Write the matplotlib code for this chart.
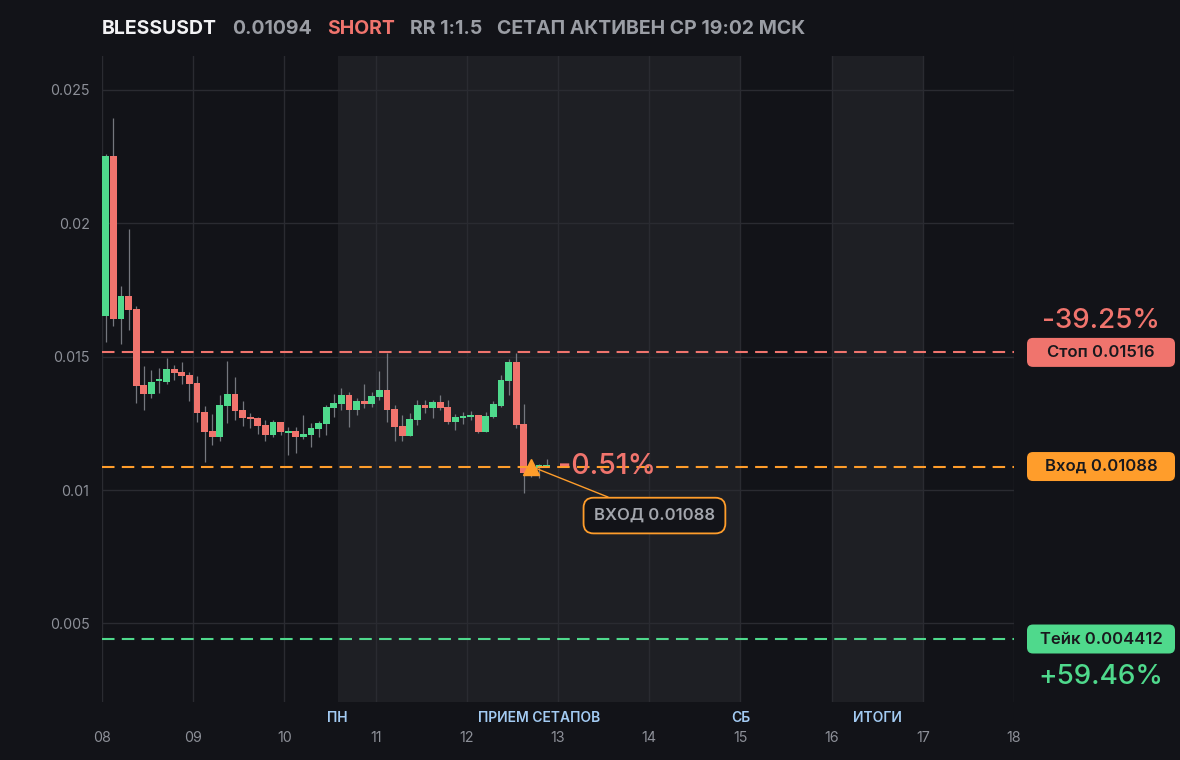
import matplotlib
matplotlib.use("Agg")
import matplotlib.pyplot as plt
import matplotlib.transforms as mtransforms
from matplotlib.patches import FancyBboxPatch
import numpy as np

plt.rcParams['font.family'] = ['Inter', 'DejaVu Sans']

# ---- data ----
symbol = "BLESSUSDT"
last_price = "0.01094"
side = "SHORT"
rr_text = "RR 1:1.5"
status_text = "СЕТАП АКТИВЕН СР 19:02 МСК"

# 2h candles starting on day 08
opens = [0.01654, 0.02253, 0.01641, 0.01728, 0.01680, 0.01394, 0.01361, 0.01409, 0.01405, 0.01454,
         0.01443, 0.01431, 0.01401, 0.01293, 0.01221, 0.01199, 0.01315, 0.01360, 0.01300, 0.01274,
         0.01270, 0.01244, 0.01206, 0.01255, 0.01214, 0.01221, 0.01199, 0.01206, 0.01229, 0.01248,
         0.01308, 0.01323, 0.01356, 0.01300, 0.01334, 0.01323, 0.01349, 0.01375, 0.01304, 0.01240,
         0.01203, 0.01263, 0.01319, 0.01308, 0.01330, 0.01311, 0.01255, 0.01270, 0.01274, 0.01281,
         0.01218, 0.01274, 0.01315, 0.01409, 0.01480, 0.01248, 0.01064, 0.01084, 0.01088]
highs = [0.02260, 0.02395, 0.01765, 0.01979, 0.01690, 0.01465, 0.01450, 0.01458, 0.01495, 0.01469,
         0.01480, 0.01443, 0.01428, 0.01315, 0.01285, 0.01356, 0.01484, 0.01424, 0.01334, 0.01289,
         0.01274, 0.01263, 0.01263, 0.01255, 0.01236, 0.01236, 0.01281, 0.01251, 0.01259, 0.01319,
         0.01360, 0.01383, 0.01367, 0.01345, 0.01398, 0.01367, 0.01446, 0.01514, 0.01319, 0.01281,
         0.01289, 0.01338, 0.01338, 0.01338, 0.01356, 0.01338, 0.01285, 0.01293, 0.01296, 0.01281,
         0.01293, 0.01334, 0.01431, 0.01491, 0.01514, 0.01323, 0.01090, 0.01096, 0.01116]
lows = [0.01555, 0.01616, 0.01547, 0.01601, 0.01328, 0.01301, 0.01346, 0.01365, 0.01398, 0.01413,
        0.01398, 0.01334, 0.01255, 0.01105, 0.01169, 0.01184, 0.01251, 0.01263, 0.01240, 0.01233,
        0.01210, 0.01184, 0.01200, 0.01206, 0.01131, 0.01139, 0.01191, 0.01161, 0.01199, 0.01206,
        0.01274, 0.01300, 0.01236, 0.01280, 0.01308, 0.01311, 0.01338, 0.01255, 0.01184, 0.01184,
        0.01203, 0.01244, 0.01289, 0.01270, 0.01300, 0.01248, 0.01225, 0.01248, 0.01263, 0.01214,
        0.01218, 0.01270, 0.01311, 0.01356, 0.01233, 0.00989, 0.01047, 0.01045, 0.01086]
closes = [0.02253, 0.01641, 0.01728, 0.01676, 0.01391, 0.01361, 0.01405, 0.01416, 0.01454, 0.01439,
          0.01428, 0.01398, 0.01289, 0.01218, 0.01199, 0.01319, 0.01360, 0.01296, 0.01270, 0.01266,
          0.01240, 0.01206, 0.01255, 0.01218, 0.01221, 0.01199, 0.01210, 0.01233, 0.01251, 0.01311,
          0.01326, 0.01356, 0.01300, 0.01334, 0.01323, 0.01352, 0.01375, 0.01300, 0.01236, 0.01203,
          0.01266, 0.01319, 0.01308, 0.01330, 0.01308, 0.01255, 0.01274, 0.01278, 0.01281, 0.01218,
          0.01278, 0.01323, 0.01413, 0.01480, 0.01244, 0.01064, 0.01085, 0.01094, 0.01094]
start_day = 8
candle_hours = 2

stop_price = 0.01516
entry_price = 0.01088
take_price = 0.004412
stop_label = "Стоп 0.01516"
entry_label = "Вход 0.01088"
take_label = "Тейк 0.004412"
stop_pct = "-39.25%"
take_pct = "+59.46%"
current_pct = "-0.51%"
entry_note = "ВХОД 0.01088"
entry_index = 56

day_ticks = [8, 9, 10, 11, 12, 13, 14, 15, 16, 17, 18]
day_labels = ["08", "09", "10", "11", "12", "13", "14", "15", "16", "17", "18"]
y_ticks = [0.005, 0.01, 0.015, 0.02, 0.025]
y_labels = ["0.005", "0.01", "0.015", "0.02", "0.025"]

week_band = (10 + 14 / 24, 15.0)
results_band = (16.0, 17.0)

# ---- style ----
BG = "#121318"
BAND = "#1e1f24"
GRID = "#2a2b31"
GREEN = "#4fd98c"
RED = "#f0746d"
ORANGE = "#ff9d2b"
WICK = "#74777e"
TICK = "#8d9098"
BLUE = "#a3cbf3"
W, H = 1180, 760

fig = plt.figure(figsize=(W / 100, H / 100), dpi=100, facecolor=BG)
ax = fig.add_axes([102 / W, 58 / H, 912 / W, 646 / H])
ax.set_facecolor(BG)
ax.set_xlim(8, 18)
ax.set_ylim(0.00205, 0.026275)
for s in ax.spines.values():
    s.set_visible(False)

ax.axvspan(*week_band, color=BAND, lw=0, zorder=0)
ax.axvspan(*results_band, color=BAND, lw=0, zorder=0)

ax.set_xticks(day_ticks)
ax.set_xticklabels(day_labels)
ax.set_yticks(y_ticks)
ax.set_yticklabels(y_labels)
ax.tick_params(length=0, colors=TICK, labelsize=10.3)
ax.tick_params(axis='x', pad=21)
ax.tick_params(axis='y', pad=9)
ax.grid(True, color=GRID, lw=1, zorder=1)
ax.set_axisbelow(True)

# candles
o = np.array(opens)
h = np.array(highs)
l = np.array(lows)
c = np.array(closes)
t = start_day + (candle_hours * np.arange(len(o)) + candle_hours / 2) / 24
cols = np.where(c >= o, GREEN, RED)
ax.vlines(t, l, h, color=WICK, lw=0.9, zorder=2)
ax.bar(t, np.abs(c - o), bottom=np.minimum(o, c), width=0.076, color=cols, lw=0, zorder=3)

# levels
ax.axhline(stop_price, color=RED, lw=1.5, dashes=(6, 3.5), zorder=4)
ax.axhline(entry_price, color=ORANGE, lw=1.5, dashes=(6, 3.5), zorder=4)
ax.axhline(take_price, color=GREEN, lw=1.5, dashes=(6, 3.5), zorder=4)

# entry marker + note
ax.plot(t[entry_index], entry_price, marker='^', color=ORANGE, ms=11, mec=ORANGE, zorder=6)
ax.annotate(entry_note, xy=(t[entry_index], entry_price), xytext=(88.6, -35.3),
            textcoords='offset points', ha='center', va='center', color="#a3a6ad",
            fontsize=12, fontweight='semibold',
            bbox=dict(boxstyle='round,pad=0.62,rounding_size=0.6', fc=BG, ec=ORANGE, lw=1.3),
            arrowprops=dict(arrowstyle='-', color=ORANGE, lw=1, shrinkA=0, shrinkB=0), zorder=6)
ax.annotate(current_pct, xy=(t[-1], entry_price), xytext=(8, 0), textcoords='offset points',
            ha='left', va='center', color=RED, fontsize=20.5, fontweight='medium', zorder=7)

# right-hand level tags
px = mtransforms.Affine2D().scale(1 / W, 1 / H) + fig.transFigure


def level_tag(price, text, color, pct=None, pct_dy=0):
    yc = ax.transData.transform((8, price))[1]
    box = FancyBboxPatch((1027, yc - 14.5), 148, 29, boxstyle='round,pad=0,rounding_size=6',
                         transform=px, fc=color, ec='none', clip_on=False)
    fig.add_artist(box)
    fig.text(1101, yc, text, transform=px, ha='center', va='center', color="#19191d",
             fontsize=12, fontweight='semibold')
    if pct:
        fig.text(1101, yc + pct_dy, pct, transform=px, ha='center', va='center', color=color,
                 fontsize=20, fontweight='medium')


level_tag(stop_price, stop_label, RED, stop_pct, 31)
level_tag(entry_price, entry_label, ORANGE)
level_tag(take_price, take_label, GREEN, take_pct, -38)

# phase labels under the axis
blend = mtransforms.blended_transform_factory(ax.transData, ax.transAxes)
phases = [("ПН", week_band[0]), ("ПРИЕМ СЕТАПОВ", sum(week_band) / 2),
          ("СБ", week_band[1]), ("ИТОГИ", sum(results_band) / 2)]
for name, xpos in phases:
    ax.text(xpos, -16 / 646, name, transform=blend, ha='center', va='center',
            color=BLUE, fontsize=10, fontweight='semibold')

# title row
renderer = fig.canvas.get_renderer()
x = 102
for txt, col in [(symbol, "#f2f2f4"), (last_price, "#9a9da4"), (side, RED),
                 (rr_text, "#9a9da4"), (status_text, "#9a9da4")]:
    tt = fig.text(x, H - 28.5, txt, transform=px, ha='left', va='center', color=col,
                  fontsize=14.0, fontweight='bold')
    bb = tt.get_window_extent(renderer)
    x = bb.x1 + 15

fig.savefig("out.png", dpi=100, facecolor=BG)
